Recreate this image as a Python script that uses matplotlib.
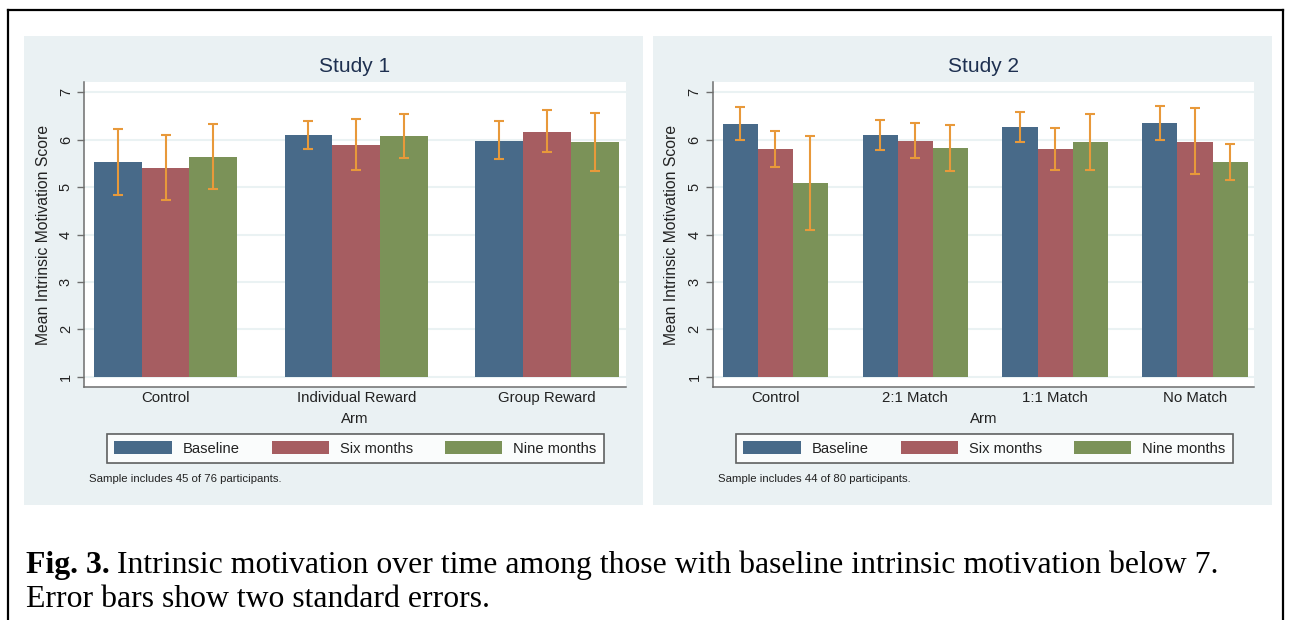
import numpy as np
import matplotlib
matplotlib.use("Agg")
import matplotlib.pyplot as plt
from matplotlib.patches import Rectangle
from matplotlib.lines import Line2D

# ---------------- data ----------------
series_names = ["Baseline", "Six months", "Nine months"]

s1_arms = ["Control", "Individual Reward", "Group Reward"]
s1_baseline = [5.52, 6.09, 5.97]
s1_baseline_lo = [4.84, 5.81, 5.60]
s1_baseline_hi = [6.22, 6.39, 6.39]
s1_six = [5.40, 5.88, 6.16]
s1_six_lo = [4.73, 5.36, 5.74]
s1_six_hi = [6.10, 6.43, 6.62]
s1_nine = [5.64, 6.07, 5.95]
s1_nine_lo = [4.96, 5.62, 5.33]
s1_nine_hi = [6.32, 6.53, 6.55]

s2_arms = ["Control", "2:1 Match", "1:1 Match", "No Match"]
s2_baseline = [6.33, 6.09, 6.26, 6.35]
s2_baseline_lo = [6.00, 5.79, 5.95, 6.00]
s2_baseline_hi = [6.69, 6.41, 6.58, 6.71]
s2_six = [5.81, 5.97, 5.81, 5.95]
s2_six_lo = [5.43, 5.62, 5.36, 5.27]
s2_six_hi = [6.19, 6.36, 6.24, 6.67]
s2_nine = [5.09, 5.83, 5.95, 5.53]
s2_nine_lo = [4.10, 5.33, 5.36, 5.15]
s2_nine_hi = [6.07, 6.31, 6.53, 5.90]

y_ticks = [1, 2, 3, 4, 5, 6, 7]
notes = ["Sample includes 45 of 76 participants.", "Sample includes 44 of 80 participants."]
titles = ["Study 1", "Study 2"]

# ---------------- style ----------------
W, H = 1290, 620
colors = ["#486A89", "#A65D61", "#7B9258"]
err_color = "#E8993A"
panel_bg = "#EAF1F3"
grid_color = "#EAF2F3"
title_color = "#1E3050"
sans = ["Liberation Sans", "DejaVu Sans"]
plt.rcParams["font.family"] = sans

fig = plt.figure(figsize=(W / 100, H / 100), dpi=100)
fig.patch.set_facecolor("white")


def fr(x0, y0, x1, y1):
    """pixel box (top-left origin) -> figure fraction rect"""
    return [x0 / W, 1 - y1 / H, (x1 - x0) / W, (y1 - y0) / H]


# outer frame
for xs, ys in [((8, 8), (10, 640)), ((8, 1283), (10, 10)), ((1283, 1283), (10, 640))]:
    fig.add_artist(Line2D([x / W for x in xs], [1 - y / H for y in ys], color="black",
                          lw=1.6, transform=fig.transFigure))

panels = [
    dict(bg=(24, 36, 643, 505), ax=(84, 81.7, 626, 387.3), xlim=(-0.428, 2.415),
         arms=s1_arms,
         vals=[s1_baseline, s1_six, s1_nine],
         lo=[s1_baseline_lo, s1_six_lo, s1_nine_lo],
         hi=[s1_baseline_hi, s1_six_hi, s1_nine_hi],
         legend=(107, 433, 604, 464), note=(89, 479)),
    dict(bg=(653, 36, 1272, 505), ax=(712.5, 81.7, 1254.5, 387.3), xlim=(-0.448, 3.425),
         arms=s2_arms,
         vals=[s2_baseline, s2_six, s2_nine],
         lo=[s2_baseline_lo, s2_six_lo, s2_nine_lo],
         hi=[s2_baseline_hi, s2_six_hi, s2_nine_hi],
         legend=(736, 433, 1233, 464), note=(718, 479)),
]

group_w = 0.752
bw = group_w / 3

for k, p in enumerate(panels):
    x0, y0, x1, y1 = p["bg"]
    fig.add_artist(Rectangle((x0 / W, 1 - y1 / H), (x1 - x0) / W, (y1 - y0) / H,
                             transform=fig.transFigure, facecolor=panel_bg,
                             edgecolor="none", zorder=0))
    ax = fig.add_axes(fr(*p["ax"]))
    ax.set_facecolor("white")
    n = len(p["arms"])
    xc = np.arange(n)
    for i in range(3):
        v = np.array(p["vals"][i])
        xs = xc + (i - 1) * bw
        ax.bar(xs, v - 1, bottom=1, width=bw, color=colors[i], edgecolor="none",
               label=series_names[i], zorder=2)
        ax.errorbar(xs, v, yerr=[v - np.array(p["lo"][i]), np.array(p["hi"][i]) - v],
                    fmt="none", ecolor=err_color, elinewidth=1.5, capsize=3.5,
                    capthick=1.5, zorder=3)
    ax.set_xlim(*p["xlim"])
    ax.set_ylim(0.78, 7.22)
    ax.set_yticks(y_ticks)
    ax.set_yticklabels([str(t) for t in y_ticks], rotation=90, va="center", fontsize=10.5,
                       color="#222222")
    ax.tick_params(axis="y", length=5, width=1, color="#6E6E6E", pad=3)
    ax.set_xticks(xc)
    ax.set_xticklabels(p["arms"], fontsize=10.8, color="#222222")
    ax.tick_params(axis="x", length=0, pad=3)
    ax.yaxis.grid(True, color=grid_color, lw=1.5, zorder=0)
    ax.set_axisbelow(True)
    for s in ["top", "right"]:
        ax.spines[s].set_visible(False)
    for s in ["left", "bottom"]:
        ax.spines[s].set_color("#6E6E6E")
        ax.spines[s].set_linewidth(1.1)
    ax.set_ylabel("Mean Intrinsic Motivation Score", fontsize=11.3, color="#222222",
                  labelpad=6)
    ax.set_xlabel("Arm", fontsize=10.8, color="#222222", labelpad=4.5)
    ax.set_title(titles[k], fontsize=15, color=title_color, pad=7)

    lx0, ly0, lx1, ly1 = p["legend"]
    leg = ax.legend(loc="center", ncol=3, mode="expand",
                    bbox_to_anchor=(lx0 / W, 1 - ly1 / H, (lx1 - lx0) / W, (ly1 - ly0) / H),
                    bbox_transform=fig.transFigure, fontsize=10.6, frameon=True,
                    fancybox=False, borderaxespad=0, borderpad=0.5, handlelength=3.9,
                    handleheight=1.0, handletextpad=0.75, columnspacing=1.8)
    leg.get_frame().set_edgecolor("#3A3A3A")
    leg.get_frame().set_linewidth(1.2)
    for t in leg.get_texts():
        t.set_color("#222222")

    nx, ny = p["note"]
    fig.text(nx / W, 1 - ny / H, notes[k], fontsize=8.2, color="#222222",
             ha="left", va="center")

# caption
serif = ["Liberation Serif", "DejaVu Serif"]
cap_size = 22.9
t1 = fig.text(26 / W, 1 - 573 / H, "Fig. 3.", fontsize=cap_size, fontweight="bold",
              family=serif, ha="left", va="baseline")
fig.canvas.draw()
bb = t1.get_window_extent(renderer=fig.canvas.get_renderer())
fig.text(bb.x1 / W + 7 / W, 1 - 573 / H,
         "Intrinsic motivation over time among those with baseline intrinsic motivation below 7.",
         fontsize=cap_size, family=serif, ha="left", va="baseline")
fig.text(26 / W, 1 - 607 / H, "Error bars show two standard errors.", fontsize=cap_size,
         family=serif, ha="left", va="baseline")

fig.savefig("out.png", dpi=100)
